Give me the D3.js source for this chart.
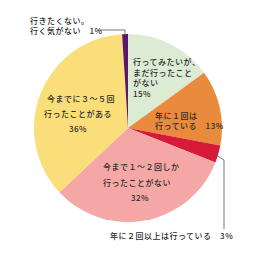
<!DOCTYPE html>
<html>
<head>
<meta charset="utf-8">
<script src="https://cdn.jsdelivr.net/npm/d3@7"></script>
<style>
  body { margin: 0; background: #fff; }
  text { font-family: "Noto Sans CJK JP", sans-serif; font-size: 8px; font-weight: 500; fill: #2a2a2a; }
</style>
</head>
<body>
<script>
// slices, clockwise from 12 o'clock
var categories = ["行ってみたいが、まだ行ったことがない", "年に１回は行っている", "年に２回以上は行っている",
                  "今まで１～２回しか行ったことがない", "今までに３～５回行ったことがある", "行きたくない。行く気がない"];
var values = [15, 13, 3, 32, 36, 1];
var colors = ["#dcebd4", "#e98a3c", "#d81a3a", "#f4a7a5", "#f9de79", "#5a1868"];
// label lines as printed in the chart
var labelLines = [
  ["行ってみたいが、", "まだ行ったこと", "がない", "15%"],
  ["年に１回は", "行っている　13%"],
  ["年に２回以上は行っている　3%"],
  ["今まで１～２回しか", "行ったことがない", "32%"],
  ["今までに３～５回", "行ったことがある", "36%"],
  ["行きたくない。", "行く気がない　1%"]
];

var w = 260, h = 260;
var cx = 128, cy = 128, r = 94;

var svg = d3.select("body").append("svg")
    .attr("width", w)
    .attr("height", h);

var data = values.map(function(v, i){ return {name: categories[i], value: v, color: colors[i], lines: labelLines[i]}; });

var pie = d3.pie().sort(null).value(function(d){ return d.value; });
var arc = d3.arc().innerRadius(0).outerRadius(r);
var arcs = pie(data);

var g = svg.append("g").attr("transform", "translate(" + cx + "," + cy + ")");

g.selectAll("path")
    .data(arcs)
    .enter()
    .append("path")
    .attr("d", arc)
    .style("fill", function(d){ return d.data.color; });

// point on the rim at the middle of a slice
function rimPoint(d, k){
  var a = (d.startAngle + d.endAngle) / 2;
  return [cx + Math.sin(a) * r * k, cy - Math.cos(a) * r * k];
}

// leader lines for the two thin slices
var pPurple = rimPoint(arcs[5], 0.99);
svg.append("polyline")
    .attr("points", [[pPurple[0], pPurple[1]], [pPurple[0], 30], [98, 30]].join(" "))
    .style("fill", "none").style("stroke", "#555").style("stroke-width", 0.8);

var pRed = rimPoint(arcs[2], 0.93);
svg.append("polyline")
    .attr("points", [[pRed[0], pRed[1]], [224, 160], [224, 229]].join(" "))
    .style("fill", "none").style("stroke", "#555").style("stroke-width", 0.8);

// label placement: [x, first baseline, line gap]
var labelPos = [
  [133, 65, 10.5],
  [155, 119, 10],
  [110, 239, 10],
  [103, 170, 15.5],
  [47, 102, 15]
];
labelPos.push([30, 24, 10]);

svg.selectAll(".lbl")
    .data(arcs)
    .enter()
    .append("text")
    .attr("class", "lbl")
    .each(function(d, i){
      var t = d3.select(this);
      var p = labelPos[i];
      d.data.lines.forEach(function(line, j){
        var isPct = /^\d+%$/.test(line);
        var ts = t.append("tspan")
          .attr("y", p[1] + j * p[2])
          .attr("letter-spacing", "0.5px")
          .text(line);
        if (isPct && i === 3) ts.attr("x", 140).attr("text-anchor", "middle");
        else if (isPct && i === 4) ts.attr("x", 78).attr("text-anchor", "middle");
        else if (i === 4 && j === 1) ts.attr("x", p[0] - 3);
        else ts.attr("x", p[0]);
      });
    });
</script>
</body>
</html>
